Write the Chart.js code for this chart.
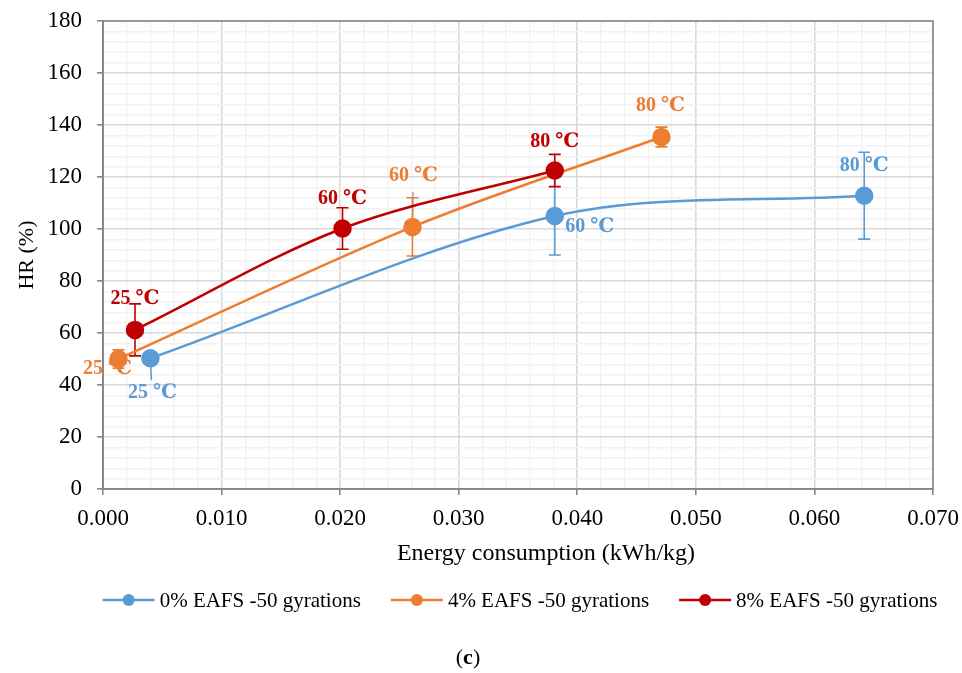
<!DOCTYPE html>
<html>
<head>
<meta charset="utf-8">
<script src="https://cdn.jsdelivr.net/npm/chart.js@4.4.1/dist/chart.umd.min.js"></script>
<style>
  html, body { margin: 0; padding: 0; background: #ffffff; }
  #wrap { position: relative; width: 962px; height: 673px; }
</style>
</head>
<body>
<div id="wrap"><canvas id="hrChart"></canvas></div>
<script>
// Series names and point labels
const seriesNames = ['0% EAFS -50 gyrations', '4% EAFS -50 gyrations', '8% EAFS -50 gyrations'];
const tempLabels = ['25 ℃', '60 ℃', '80 ℃'];
const xTitle = 'Energy consumption (kWh/kg)';

// Energy consumption (kWh/kg), HR (%) and error bar half-lengths per mix
const energy0 = [0.0040, 0.0381, 0.0642];
const hr0 = [50.3, 105.0, 112.8];
const err0 = [1.5, 15.0, 16.7];

const energy4 = [0.0013, 0.0261, 0.0471];
const hr4 = [50.0, 100.8, 135.4];
const err4 = [3.5, 11.2, 3.8];

const energy8 = [0.0027, 0.0202, 0.0381];
const hr8 = [61.2, 100.2, 122.5];
const err8 = [10.0, 8.0, 6.2];

// Axis tick labels (major ticks)
const xTickLabels = ['0.000', '0.010', '0.020', '0.030', '0.040', '0.050', '0.060', '0.070'];
const yTickLabels = ['0', '20', '40', '60', '80', '100', '120', '140', '160', '180'];

// Styling
const colors = ['#5b9bd5', '#ed7d31', '#c00000'];
const axisColor = '#868686';
const majorGrid = '#d9d9d9';
const minorGrid = '#f2f2f2';
const serif = '"Liberation Serif", "Times New Roman", "DejaVu Serif", serif';

// Offsets (px) of each point label from its marker
const labelOffsets = [
  [[2, 35], [35, 11], [0, -30]],
  [[-11, 10], [1, -51], [-1, -31]],
  [[0, -31], [0, -30], [0, -29]]
];
// Leader lines joining a moved label to its point
const leaderLines = [
  { series: 0, index: 0, color: '#5b9bd5' },
  { series: 1, index: 1, color: '#a6a6a6' }
];

const energies = [energy0, energy4, energy8];
const hrs = [hr0, hr4, hr8];
const errs = [err0, err4, err8];

function toPoints(xs, ys) {
  return xs.map((x, i) => ({ x: x, y: ys[i] }));
}

const isMajorX = v => Math.round(v * 1000) % 10 === 0;
const isMajorY = v => Math.round(v) % 20 === 0;

Chart.defaults.font.family = serif;
Chart.defaults.color = '#000000';

const errorBarPlugin = {
  id: 'errorBars',
  beforeDatasetsDraw(chart) {
    const ctx = chart.ctx;
    const ya = chart.scales.y;
    const area = chart.chartArea;
    ctx.save();
    // plot frame
    ctx.strokeStyle = axisColor;
    ctx.lineWidth = 1.6;
    ctx.strokeRect(area.left, area.top, area.right - area.left, area.bottom - area.top);
    // leader lines
    leaderLines.forEach(l => {
      const el = chart.getDatasetMeta(l.series).data[l.index];
      const off = labelOffsets[l.series][l.index];
      const endY = el.y + off[1] + (off[1] > 0 ? -13 : 16);
      ctx.strokeStyle = l.color;
      ctx.lineWidth = 1.5;
      ctx.beginPath();
      ctx.moveTo(el.x, el.y);
      ctx.lineTo(el.x + off[0] * 0.5, endY);
      ctx.stroke();
    });
    // error bars
    chart.data.datasets.forEach((ds, di) => {
      const meta = chart.getDatasetMeta(di);
      ctx.strokeStyle = colors[di];
      ctx.lineWidth = 1.6;
      meta.data.forEach((el, i) => {
        const v = hrs[di][i];
        const e = errs[di][i];
        const top = ya.getPixelForValue(v + e);
        const bot = ya.getPixelForValue(v - e);
        ctx.beginPath();
        ctx.moveTo(el.x, top); ctx.lineTo(el.x, bot);
        ctx.moveTo(el.x - 6, top); ctx.lineTo(el.x + 6, top);
        ctx.moveTo(el.x - 6, bot); ctx.lineTo(el.x + 6, bot);
        ctx.stroke();
      });
    });
    ctx.restore();
  },
  afterDatasetsDraw(chart) {
    const ctx = chart.ctx;
    ctx.save();
    ctx.font = 'bold 20px ' + serif;
    ctx.textAlign = 'center';
    ctx.textBaseline = 'middle';
    chart.data.datasets.forEach((ds, di) => {
      const meta = chart.getDatasetMeta(di);
      ctx.fillStyle = colors[di];
      meta.data.forEach((el, i) => {
        const off = labelOffsets[di][i];
        ctx.fillText(tempLabels[i], el.x + off[0], el.y + off[1]);
      });
    });
    ctx.restore();
  },
  afterDraw(chart) {
    const ctx = chart.ctx;
    ctx.save();
    // x axis title
    ctx.font = '24px ' + serif;
    ctx.fillStyle = '#000000';
    ctx.textAlign = 'center';
    ctx.textBaseline = 'middle';
    ctx.fillText(xTitle, 546, 554);
    // legend
    ctx.font = '21px ' + serif;
    ctx.textBaseline = 'middle';
    const lineLen = 52, gapText = 5, gapItem = 30;
    const widths = seriesNames.map(n => ctx.measureText(n).width);
    const total = widths.reduce((a, w) => a + w + lineLen + gapText, 0) + gapItem * (seriesNames.length - 1);
    let x = 520 - total / 2;
    const y = 600;
    seriesNames.forEach((n, i) => {
      ctx.strokeStyle = colors[i];
      ctx.lineWidth = 2.5;
      ctx.beginPath();
      ctx.moveTo(x, y); ctx.lineTo(x + lineLen, y);
      ctx.stroke();
      ctx.fillStyle = colors[i];
      ctx.beginPath();
      ctx.arc(x + lineLen / 2, y, 6, 0, Math.PI * 2);
      ctx.fill();
      ctx.fillStyle = '#000000';
      ctx.textAlign = 'left';
      ctx.fillText(n, x + lineLen + gapText, y + 1);
      x += lineLen + gapText + widths[i] + gapItem;
    });
    // panel caption "(c)"
    ctx.font = '22px ' + serif;
    const wp = ctx.measureText('(').width;
    ctx.font = 'bold 22px ' + serif;
    const wc = ctx.measureText('c').width;
    ctx.font = '22px ' + serif;
    const wq = ctx.measureText(')').width;
    let cx = 468 - (wp + wc + wq) / 2;
    const cy = 658;
    ctx.textAlign = 'left';
    ctx.fillText('(', cx, cy);
    ctx.font = 'bold 22px ' + serif;
    ctx.fillText('c', cx + wp, cy);
    ctx.font = '22px ' + serif;
    ctx.fillText(')', cx + wp + wc, cy);
    ctx.restore();
  }
};

const datasets = seriesNames.map((name, i) => ({
  label: name,
  data: toPoints(energies[i], hrs[i]),
  borderColor: colors[i],
  backgroundColor: colors[i],
  pointBackgroundColor: colors[i],
  pointBorderColor: colors[i],
  pointRadius: 8,
  pointHoverRadius: 8,
  borderWidth: 2.5,
  tension: 0.33,
  fill: false,
  showLine: true,
  order: seriesNames.length - 1 - i
}));

new Chart(document.getElementById('hrChart'), {
  type: 'line',
  data: { datasets: datasets },
  options: {
    responsive: true,
    maintainAspectRatio: false,
    animation: false,
    layout: { padding: { left: 0, right: 29, top: 21, bottom: 104 } },
    plugins: {
      legend: { display: false },
      tooltip: { enabled: false }
    },
    scales: {
      x: {
        type: 'linear',
        min: 0,
        max: 0.07,
        afterFit: s => { s.height = 80; s.paddingLeft = 0; s.paddingRight = 0; },
        ticks: {
          stepSize: 0.002,
          autoSkip: false,
          maxRotation: 0,
          padding: 10,
          font: { size: 23 },
          callback: v => isMajorX(v) ? xTickLabels[Math.round(v * 100)] : ''
        },
        grid: {
          color: c => isMajorX(c.tick.value) ? majorGrid : minorGrid,
          lineWidth: c => isMajorX(c.tick.value) ? 1.6 : 1.4,
          tickColor: c => isMajorX(c.tick.value) ? axisColor : 'rgba(0,0,0,0)',
          tickLength: 6,
          tickWidth: 1.6
        },
        border: { color: axisColor, width: 1.6 },
        title: { display: false }
      },
      y: {
        type: 'linear',
        min: 0,
        max: 180,
        afterFit: s => { s.width = 103; s.paddingTop = 0; s.paddingBottom = 0; },
        ticks: {
          stepSize: 4,
          autoSkip: false,
          padding: 15,
          font: { size: 23 },
          callback: v => isMajorY(v) ? yTickLabels[Math.round(v / 20)] : ''
        },
        grid: {
          color: c => isMajorY(c.tick.value) ? majorGrid : minorGrid,
          lineWidth: c => isMajorY(c.tick.value) ? 1.6 : 1.4,
          tickColor: c => isMajorY(c.tick.value) ? axisColor : 'rgba(0,0,0,0)',
          tickLength: 6,
          tickWidth: 1.6
        },
        border: { color: axisColor, width: 1.6 },
        title: {
          display: true,
          text: 'HR (%)',
          font: { size: 22 },
          padding: { top: 14, bottom: 0 }
        }
      }
    }
  },
  plugins: [errorBarPlugin]
});
</script>
</body>
</html>
